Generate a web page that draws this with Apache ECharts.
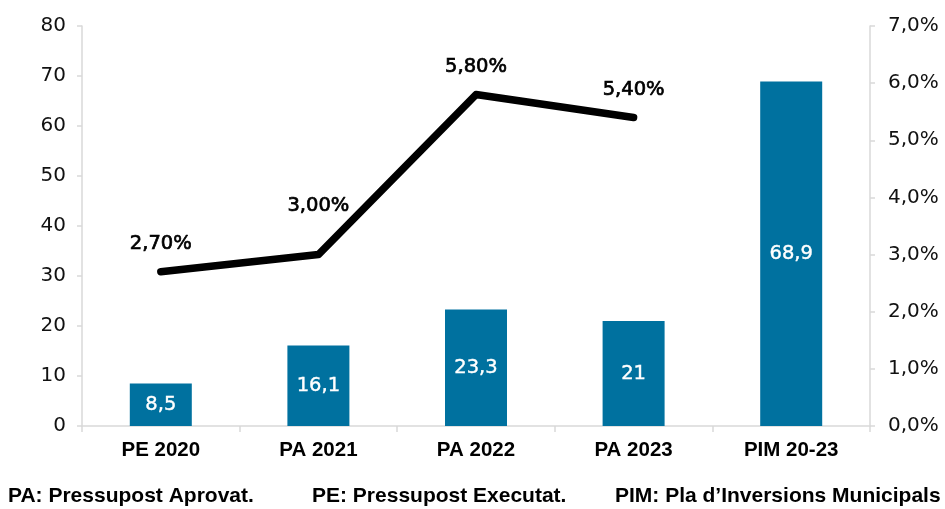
<!DOCTYPE html>
<html>
<head>
<meta charset="utf-8">
<style>
  html, body { margin: 0; padding: 0; background: #ffffff; }
  #chart { width: 945px; height: 509px; }
</style>
<script src="https://cdn.jsdelivr.net/npm/echarts@6/dist/echarts.min.js"></script>
</head>
<body>
<div id="chart"></div>
<script>
// Inversió (milions d'euros) i percentatge sobre el pressupost
const categories = ['PE 2020', 'PA 2021', 'PA 2022', 'PA 2023', 'PIM 20-23'];
const investment = [8.5, 16.1, 23.3, 21, 68.9];
const share = [2.7, 3.0, 5.8, 5.4];
const shareLabelLift = [0, 21, 0, 0];
const leftTicks = { min: 0, max: 80, interval: 10 };
const rightTicks = { min: 0, max: 7, interval: 1 };
const footnotes = [
  'PA: Pressupost Aprovat.',
  'PE: Pressupost Executat.',
  'PIM: Pla d\u2019Inversions Municipals'
];
const footnoteX = [8, 312, 615];

const SANS = '"DejaVu Sans", sans-serif';
const BOLD = '"Liberation Sans", Arial, sans-serif';
const comma = (v, d) => v.toFixed(d).replace('.', ',');
const AXIS_GREY = '#d9d9d9';

const chart = echarts.init(document.getElementById('chart'));

chart.setOption({
  animation: false,
  grid: { left: 82, right: 75, top: 26, bottom: 83 },
  xAxis: {
    type: 'category',
    data: categories,
    axisLine: { lineStyle: { color: AXIS_GREY, width: 1.5 } },
    axisTick: { show: true, length: 6, lineStyle: { color: AXIS_GREY, width: 1.5 } },
    axisLabel: { color: '#000', fontSize: 20.5, fontWeight: 'bold', margin: 14, fontFamily: BOLD }
  },
  yAxis: [
    {
      type: 'value',
      min: leftTicks.min, max: leftTicks.max, interval: leftTicks.interval,
      axisLine: { show: true, lineStyle: { color: AXIS_GREY, width: 1.5 } },
      axisTick: { show: true, length: 5, lineStyle: { color: AXIS_GREY, width: 1.5 } },
      splitLine: { show: false },
      axisLabel: { color: '#111', fontSize: 20, margin: 16, fontFamily: SANS }
    },
    {
      type: 'value',
      position: 'right',
      min: rightTicks.min, max: rightTicks.max, interval: rightTicks.interval,
      axisLine: { show: true, lineStyle: { color: AXIS_GREY, width: 1.5 } },
      axisTick: { show: true, length: 5, lineStyle: { color: AXIS_GREY, width: 1.5 } },
      splitLine: { show: false },
      axisLabel: {
        color: '#111', fontSize: 20, margin: 18, fontFamily: SANS,
        formatter: v => comma(v, 1) + '%'
      }
    }
  ],
  series: [
    {
      type: 'bar',
      data: investment,
      barWidth: 62,
      itemStyle: { color: '#00719f' },
      label: {
        show: true,
        position: 'inside',
        color: '#fff',
        fontSize: 19.5,
        fontFamily: SANS,
        textBorderColor: '#fff',
        textBorderWidth: 0.4,
        formatter: p => String(p.value).replace('.', ',')
      }
    },
    {
      type: 'line',
      yAxisIndex: 1,
      data: share.map((v, i) => ({
        value: v,
        label: { offset: [0, -shareLabelLift[i]] }
      })),
      symbol: 'circle',
      symbolSize: 1,
      showSymbol: true,
      itemStyle: { color: '#000' },
      lineStyle: { color: '#000', width: 7.5, cap: 'round', join: 'round' },
      label: {
        show: true,
        position: 'top',
        distance: 17,
        color: '#000',
        fontSize: 19.5,
        fontFamily: SANS,
        textBorderColor: '#000',
        textBorderWidth: 0.7,
        formatter: p => comma(p.value, 2) + '%'
      },
      z: 5
    }
  ],
  graphic: footnotes.map((t, i) => ({
    type: 'text',
    x: footnoteX[i],
    y: 496,
    style: {
      text: t, fill: '#000', font: 'bold 21px ' + BOLD,
      textAlign: 'left', textVerticalAlign: 'middle'
    }
  }))
});
</script>
</body>
</html>
